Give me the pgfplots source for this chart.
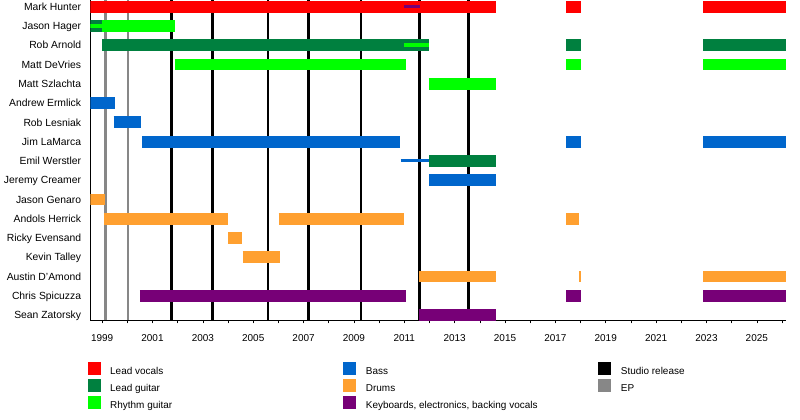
\documentclass[border=0pt]{standalone}
\usepackage{fontspec}
\setmainfont{Liberation Sans}
\usepackage{pgfplots}
\pgfplotsset{compat=1.18}
\definecolor{cvoc}{HTML}{FF0000}
\definecolor{clead}{HTML}{00803F}
\definecolor{crhy}{HTML}{00FF00}
\definecolor{cbass}{HTML}{0066CC}
\definecolor{cdrum}{HTML}{FFA030}
\definecolor{ckey}{HTML}{770077}
\definecolor{cep}{HTML}{878787}
\begin{document}
\begin{tikzpicture}
\path[use as bounding box] (0,0) rectangle (800bp,-420bp);
\begin{axis}[
  at={(90.3bp,-320.3bp)}, anchor=south west,
  scale only axis, width=695.7bp, height=320.3bp,
  xmin=1998.53, xmax=2026.16,
  ymin=-0.275, ymax=16.35,
  axis x line*=bottom, axis y line*=left,
  axis line style={-, black, line width=0.8bp},
  unbounded coords=jump,
  xtick={1999,2001,...,2025},
  minor xtick={2000,2002,...,2026},
  xticklabels={1999,2001,2003,2005,2007,2009,2011,2013,2015,2017,2019,2021,2023,2025},
  tick align=outside,
  major tick length=3bp, minor tick length=3bp,
  xtick style={black, line width=0.6bp},
  xticklabel style={font=\fontsize{10}{11}\selectfont, anchor=base, inner sep=0pt, yshift=-18.4bp},
  ytick={0,...,16},
  yticklabels={Sean Zatorsky,Chris Spicuzza,Austin D'Amond,Kevin Talley,Ricky Evensand,Andols Herrick,Jason Genaro,Jeremy Creamer,Emil Werstler,Jim LaMarca,Rob Lesniak,Andrew Ermlick,Matt Szlachta,Matt DeVries,Rob Arnold,Jason Hager,Mark Hunter},
  ytick style={draw=none},
  yticklabel style={font=\fontsize{10.4}{12}\selectfont, anchor=base east, inner sep=0pt, xshift=-6bp, yshift=-3.7bp},
  clip=true,
]
% EP releases
\addplot[draw=cep, line width=2.8bp, forget plot] coordinates {(1999.12,-0.275) (1999.12,16.35) (nan,nan) (2000.03,-0.275) (2000.03,16.35)};
% Studio releases
\addplot[draw=black, line width=2.8bp, forget plot] coordinates {(2001.74,-0.275) (2001.74,16.35) (nan,nan) (2003.37,-0.275) (2003.37,16.35) (nan,nan) (2005.59,-0.275) (2005.59,16.35) (nan,nan) (2007.18,-0.275) (2007.18,16.35) (nan,nan) (2009.28,-0.275) (2009.28,16.35) (nan,nan) (2011.6,-0.275) (2011.6,16.35) (nan,nan) (2013.56,-0.275) (2013.56,16.35)};
% Lead vocals
\addplot[draw=cvoc, line width=11.8bp, line cap=butt, forget plot] coordinates {(1998.53,16) (2014.66,16) (nan,nan) (2017.44,16) (2018.0,16) (nan,nan) (2022.88,16) (2026.16,16)};
% Lead guitar
\addplot[draw=clead, line width=11.8bp, line cap=butt, forget plot] coordinates {(1998.53,15) (1999.0,15) (nan,nan) (1999.0,14) (2012.0,14) (nan,nan) (2017.44,14) (2018.0,14) (nan,nan) (2022.88,14) (2026.16,14) (nan,nan) (2012.0,8) (2014.66,8)};
% Rhythm guitar
\addplot[draw=crhy, line width=11.8bp, line cap=butt, forget plot] coordinates {(1999.0,15) (2001.9,15) (nan,nan) (2001.88,13) (2011.05,13) (nan,nan) (2017.44,13) (2018.0,13) (nan,nan) (2022.88,13) (2026.16,13) (nan,nan) (2011.97,12) (2014.66,12)};
% Bass
\addplot[draw=cbass, line width=11.8bp, line cap=butt, forget plot] coordinates {(1998.53,11) (1999.5,11) (nan,nan) (1999.46,10) (2000.53,10) (nan,nan) (2000.6,9) (2010.81,9) (nan,nan) (2017.44,9) (2018.0,9) (nan,nan) (2022.88,9) (2026.16,9) (nan,nan) (2012.0,7) (2014.66,7)};
% Drums
\addplot[draw=cdrum, line width=11.8bp, line cap=butt, forget plot] coordinates {(1998.53,6) (1999.1,6) (nan,nan) (1999.07,5) (2003.99,5) (nan,nan) (2006.01,5) (2011.0,5) (nan,nan) (2017.44,5) (2017.95,5) (nan,nan) (2004.0,4) (2004.55,4) (nan,nan) (2004.58,3) (2006.05,3) (nan,nan) (2011.6,2) (2014.66,2) (nan,nan) (2017.93,2) (2018.0,2) (nan,nan) (2022.88,2) (2026.16,2)};
% Keyboards
\addplot[draw=ckey, line width=11.8bp, line cap=butt, forget plot] coordinates {(2000.5,1) (2011.05,1) (nan,nan) (2017.44,1) (2018.0,1) (nan,nan) (2022.88,1) (2026.16,1) (nan,nan) (2011.6,0) (2014.66,0)};
% thin overlays
\addplot[draw=crhy, line width=4bp, line cap=butt, forget plot] coordinates {(1998.53,15) (1999.0,15) (nan,nan) (2011.0,14) (2012.0,14)};
\addplot[draw=ckey, line width=3.2bp, line cap=butt, forget plot] coordinates {(2011.0,16) (2011.63,16)};
\addplot[draw=cbass, line width=3.2bp, line cap=butt, forget plot] coordinates {(2010.85,8) (2012.0,8)};
\end{axis}
% legend
\begingroup
\fontsize{10}{12}\selectfont
\fill[cvoc]  (88.3bp,-362.3bp) rectangle (101bp,-375bp);
\fill[clead] (88.3bp,-379.3bp) rectangle (101bp,-392bp);
\fill[crhy]  (88.3bp,-396.3bp) rectangle (101bp,-409bp);
\node[anchor=base west, inner sep=0pt] at (110bp,-374.3bp) {Lead vocals};
\node[anchor=base west, inner sep=0pt] at (110bp,-391.3bp) {Lead guitar};
\node[anchor=base west, inner sep=0pt] at (110bp,-408.3bp) {Rhythm guitar};
\fill[cbass] (343.3bp,-362.3bp) rectangle (356bp,-375bp);
\fill[cdrum] (343.3bp,-379.3bp) rectangle (356bp,-392bp);
\fill[ckey]  (343.3bp,-396.3bp) rectangle (356bp,-409bp);
\node[anchor=base west, inner sep=0pt] at (365.7bp,-374.3bp) {Bass};
\node[anchor=base west, inner sep=0pt] at (365.7bp,-391.3bp) {Drums};
\node[anchor=base west, inner sep=0pt] at (365.7bp,-408.3bp) {Keyboards, electronics, backing vocals};
\fill[black] (598.3bp,-362.3bp) rectangle (611bp,-375bp);
\fill[cep]   (598.3bp,-379.3bp) rectangle (611bp,-392bp);
\node[anchor=base west, inner sep=0pt] at (620.7bp,-374.3bp) {Studio release};
\node[anchor=base west, inner sep=0pt] at (620.7bp,-391.3bp) {EP};
\endgroup
\end{tikzpicture}
\end{document}
